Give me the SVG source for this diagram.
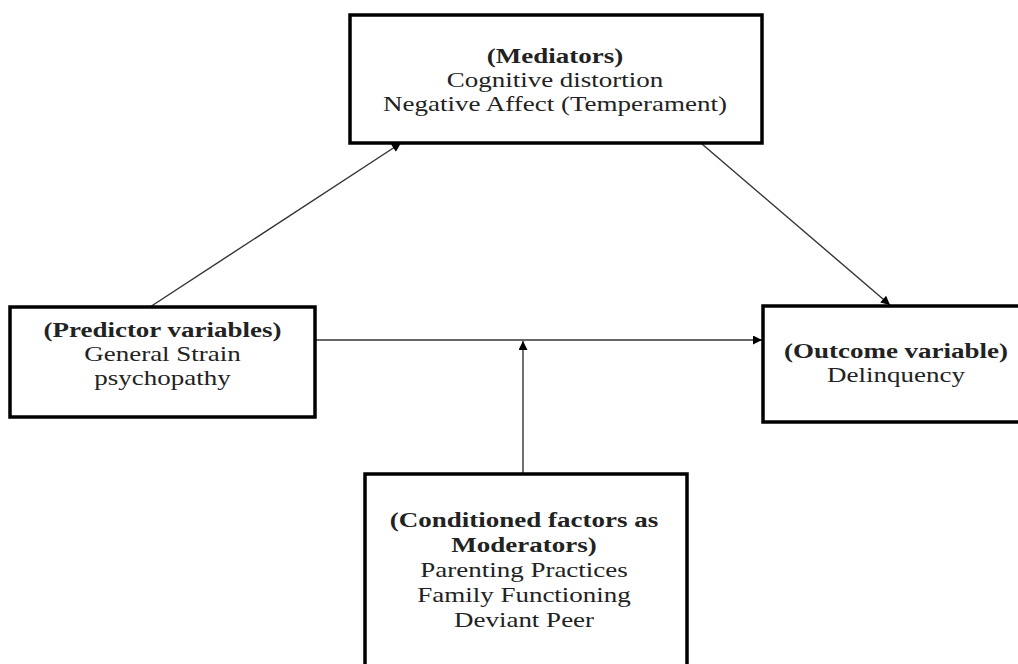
<svg xmlns="http://www.w3.org/2000/svg" width="1018" height="664" viewBox="0 0 1018 664">
  <defs>
    <marker id="arr" viewBox="0 0 10 10" refX="10" refY="5" markerWidth="10" markerHeight="9" markerUnits="userSpaceOnUse" orient="auto">
      <path d="M0,0 L10,5 L0,10 z" fill="#000"/>
    </marker>
    <style>
      .box { fill: #fff; stroke: #000; stroke-width: 3.5; }
      .t { font-family: "Liberation Serif", "Times New Roman", serif; font-size: 20px; fill: #222; text-anchor: middle; }
      .b { font-weight: bold; }
      .edge { stroke: #333; stroke-width: 1.4; fill: none; marker-end: url(#arr); }
    </style>
  </defs>
  <rect width="1018" height="664" fill="#fff"/>

  <g id="connectors">
    <line class="edge" x1="150" y1="307" x2="401" y2="143"/>
    <line class="edge" x1="702" y1="144" x2="890" y2="305"/>
    <line class="edge" x1="315" y1="340" x2="762" y2="340"/>
    <line class="edge" x1="523" y1="474" x2="523" y2="341"/>
  </g>

  <g id="mediators">
    <rect class="box" x="350" y="15" width="412" height="128"/>
    <g transform="translate(555 0) scale(1.35 1)">
      <text class="t b" x="0" y="63">(Mediators)</text>
      <text class="t" x="0" y="87">Cognitive distortion</text>
      <text class="t" x="0" y="111">Negative Affect (Temperament)</text>
    </g>
  </g>

  <g id="predictor">
    <rect class="box" x="10" y="307" width="305" height="110"/>
    <g transform="translate(162.5 0) scale(1.35 1)">
      <text class="t b" x="0" y="337">(Predictor variables)</text>
      <text class="t" x="0" y="361">General Strain</text>
      <text class="t" x="0" y="385">psychopathy</text>
    </g>
  </g>

  <g id="outcome">
    <rect class="box" x="763" y="306" width="270" height="116"/>
    <g transform="translate(896 0) scale(1.35 1)">
      <text class="t b" x="0" y="358">(Outcome variable)</text>
      <text class="t" x="0" y="382">Delinquency</text>
    </g>
  </g>

  <g id="moderators">
    <rect class="box" x="365" y="474" width="322" height="200"/>
    <g transform="translate(524 0) scale(1.35 1)">
      <text class="t b" x="0" y="527">(Conditioned factors as</text>
      <text class="t b" x="0" y="552">Moderators)</text>
      <text class="t" x="0" y="577">Parenting Practices</text>
      <text class="t" x="0" y="602">Family Functioning</text>
      <text class="t" x="0" y="627">Deviant Peer</text>
    </g>
  </g>
</svg>
